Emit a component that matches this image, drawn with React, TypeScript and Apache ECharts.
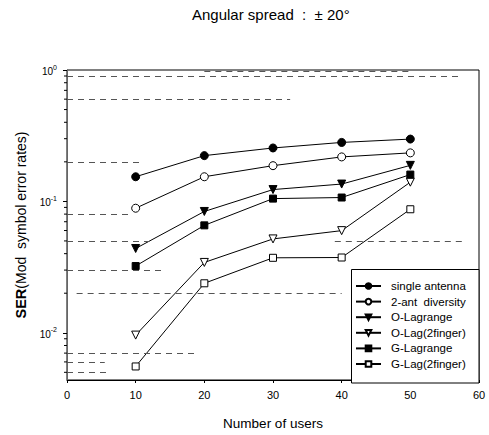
import React, { useEffect, useRef } from "react";
import * as echarts from "echarts";

const xValues = [10, 20, 30, 40, 50];
const singleAntenna = [0.154, 0.223, 0.255, 0.281, 0.298];
const twoAntDiversity = [0.0887, 0.154, 0.187, 0.218, 0.234];
const oLagrange = [0.0438, 0.0838, 0.123, 0.1355, 0.188];
const oLag2finger = [0.0096, 0.0343, 0.0518, 0.0599, 0.14];
const gLagrange = [0.0322, 0.0657, 0.105, 0.107, 0.16];
const gLag2finger = [0.00554, 0.0238, 0.0372, 0.0374, 0.0871];

const seriesNames = [
  "single antenna",
  "2-ant  diversity",
  "O-Lagrange",
  "O-Lag(2finger)",
  "G-Lagrange",
  "G-Lag(2finger)",
];

const xTicks = [0, 10, 20, 30, 40, 50, 60];
const yMinorTicks = [
  0.005, 0.006, 0.007, 0.008, 0.009, 0.02, 0.03, 0.04, 0.05, 0.06, 0.07, 0.08,
  0.09, 0.2, 0.3, 0.4, 0.5, 0.6, 0.7, 0.8, 0.9,
];
// faint, broken grid-line fragments visible in the scan: [value, xFrom, xTo]
const gridFragments: [number, number, number][] = [
  [0.975, 20, 50],
  [0.9, 0, 57],
  [0.6, 0, 32.5],
  [0.2, 0, 11],
  [0.08, 0, 9.2],
  [0.05, 0, 12],
  [0.05, 39, 58],
  [0.03, 0, 14],
  [0.02, 1.4, 40],
  [0.007, 0, 19],
  [0.006, 0, 5.5],
  [0.005, 0, 6],
];

const FONT = "'Liberation Sans', Arial, Helvetica, sans-serif";
const TRI_DOWN = "path://M0,0 L10,0 L5,9 Z";

export default function App() {
  const ref = useRef<HTMLDivElement>(null);
  useEffect(() => {
    if (!ref.current) return;
    const chart = echarts.init(ref.current, undefined, { renderer: "svg" });
    const mk = (vals: number[]) => vals.map((v, i) => [xValues[i], v]);
    const line = (
      name: string,
      vals: number[],
      symbol: string,
      filled: boolean,
      size: number
    ) => ({
      name,
      type: "line",
      data: mk(vals),
      symbol,
      symbolSize: size,
      showAllSymbol: true,
      z: 3,
      lineStyle: { color: "#000", width: 1 },
      itemStyle: {
        color: filled ? "#000" : "#fff",
        borderColor: "#000",
        borderWidth: 1,
        opacity: 1,
      },
    });
    chart.setOption({
      animation: false,
      backgroundColor: "#fff",
      textStyle: { fontFamily: FONT },
      title: {
        text: "Angular spread  :  \u00b1 20\u00b0",
        left: 192,
        top: 7,
        padding: 0,
        textStyle: { fontSize: 15, fontWeight: "normal", color: "#000", fontFamily: FONT },
      },
      grid: {
        left: 67,
        right: 10,
        top: 70,
        bottom: 52,
        show: true,
        borderColor: "#000",
        borderWidth: 1,
        backgroundColor: "transparent",
      },
      legend: {
        show: true,
        data: seriesNames,
        orient: "vertical",
        left: 355,
        top: 280,
        itemWidth: 25,
        itemHeight: 7,
        itemGap: 3.6,
        padding: 0,
        textStyle: { fontSize: 11.5, color: "#000", fontFamily: FONT, padding: [0, 0, 0, 5] },
      },
      graphic: [
        {
          type: "rect",
          z: 3,
          shape: { x: 351.5, y: 269.5, width: 127.5, height: 113.5 },
          style: { fill: "#fff", stroke: "#000", lineWidth: 1 },
        },
      ],
      xAxis: {
        type: "value",
        min: xTicks[0],
        max: xTicks[xTicks.length - 1],
        interval: 10,
        name: "Number of users",
        nameLocation: "middle",
        nameGap: 36,
        nameTextStyle: { fontSize: 13.5, color: "#000", fontFamily: FONT },
        axisLine: { lineStyle: { color: "#000", width: 1 } },
        axisTick: { show: true, inside: false, length: 3, lineStyle: { color: "#000" } },
        axisLabel: { fontSize: 11, color: "#000", margin: 9, fontFamily: FONT },
        splitLine: { show: false },
      },
      yAxis: {
        type: "log",
        logBase: 10,
        min: 0.00437,
        max: 1,
        name: "{b|SER}(Mod  symbol error rates)",
        nameLocation: "middle",
        nameGap: 38,
        nameTextStyle: {
          fontSize: 14,
          color: "#000",
          fontFamily: FONT,
          rich: {
            b: { fontSize: 14.5, fontWeight: "bold", color: "#000", fontFamily: FONT },
          },
        },
        axisLine: { lineStyle: { color: "#666", width: 1 } },
        axisTick: { show: true, inside: false, length: 4, lineStyle: { color: "#000" } },
        axisLabel: {
          margin: 10,
          color: "#000",
          showMinLabel: false,
          formatter: (v: number) => {
            const l = Math.log10(v);
            const e = Math.round(l);
            if (Math.abs(l - e) > 0.01) return "";
            return "{b|10}{s|" + (e === 0 ? "0" : String(e)) + "}";
          },
          rich: {
            b: { fontSize: 10, fontFamily: FONT, color: "#000", lineHeight: 13, verticalAlign: "bottom" },
            s: { fontSize: 7, fontFamily: FONT, color: "#000", lineHeight: 8, verticalAlign: "top" },
          },
        },
        splitLine: { show: false },
      },
      series: [
        {
          name: "_grid",
          type: "line",
          data: [],
          z: 1,
          silent: true,
          markLine: {
            silent: true,
            symbol: "none",
            label: { show: false },
            lineStyle: { color: "#555", width: 1, type: [6, 5] },
            data: gridFragments.map(([v, a, b]) => [
              { coord: [a, v] },
              { coord: [b, v] },
            ]),
          },
        },
        {
          name: "_minor",
          type: "custom",
          silent: true,
          z: 2,
          clip: false,
          data: yMinorTicks.map((v) => [0, v]),
          renderItem: (params: any, api: any) => {
            const p = api.coord([api.value(0), api.value(1)]);
            return {
              type: "line",
              shape: { x1: p[0] - 3, y1: p[1], x2: p[0], y2: p[1] },
              style: { stroke: "#000", lineWidth: 1 },
            };
          },
        },
        line(seriesNames[0], singleAntenna, "circle", true, 8),
        line(seriesNames[1], twoAntDiversity, "circle", false, 8),
        line(seriesNames[2], oLagrange, TRI_DOWN, true, 8),
        line(seriesNames[3], oLag2finger, TRI_DOWN, false, 8),
        line(seriesNames[4], gLagrange, "rect", true, 7),
        line(seriesNames[5], gLag2finger, "rect", false, 7),
      ],
    });
    return () => chart.dispose();
  }, []);
  return (
    <div
      ref={ref}
      style={{ position: "absolute", left: 0, top: 0, width: 489, height: 435 }}
    />
  );
}
